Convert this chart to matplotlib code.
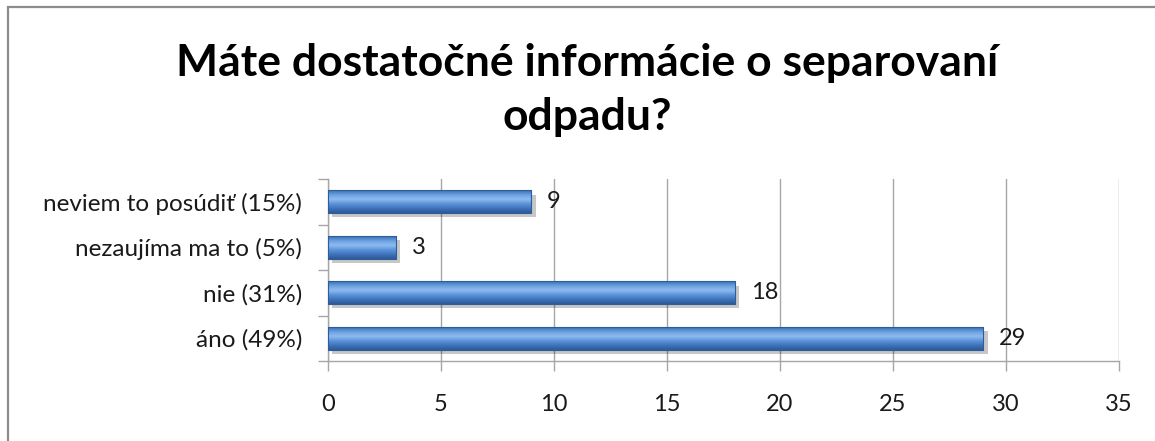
import numpy as np
import matplotlib
matplotlib.use("Agg")
import matplotlib.pyplot as plt
import matplotlib.patheffects as pe
from matplotlib.colors import LinearSegmentedColormap
from matplotlib.patches import Rectangle

plt.rcParams['font.family'] = ['Lato', 'DejaVu Sans']

# data (bottom to top)
categories = ["áno (49%)", "nie (31%)", "nezaujíma ma to (5%)", "neviem to posúdiť (15%)"]
counts = [29, 18, 3, 9]
x_ticks = [0, 5, 10, 15, 20, 25, 30, 35]
title = "Máte dostatočné informácie o separovaní\nodpadu?"

fig = plt.figure(figsize=(11.55, 4.41), dpi=100)

# outer chart border (only top and left visible, rest cut off)
fig.patches.append(Rectangle((8 / 1155, -0.05), 1.2, 1 - 7 / 441 + 0.05,
                             transform=fig.transFigure, fill=False,
                             edgecolor="#8c8c8c", linewidth=1.6))

ax = fig.add_axes([328 / 1155, 1 - 361 / 441, (1119 - 328) / 1155, (361 - 179) / 441])

y = np.arange(len(categories))
bars = ax.barh(y, counts, height=0.5, color="#4a80c8", edgecolor="#2f5d99",
               linewidth=0.6, zorder=3)

# blue gradient fill clipped to each bar, plus soft shadow
grad = LinearSegmentedColormap.from_list(
    "bevel", ["#2c5a96", "#3f74bb", "#5b93da", "#8fbcef", "#6aa0e0", "#3a6fb3"])
g = np.linspace(0, 1, 64).reshape(-1, 1)
for b in bars:
    x0, y0 = b.get_x(), b.get_y()
    w, h = b.get_width(), b.get_height()
    b.set_path_effects([pe.SimplePatchShadow(offset=(3, -3), shadow_rgbFace="#000000",
                                             alpha=0.22), pe.Normal()])
    im = ax.imshow(g, cmap=grad, aspect="auto", extent=(x0, x0 + w, y0, y0 + h),
                   origin="lower", zorder=4, interpolation="bicubic")
    im.set_clip_path(b)
    ax.add_patch(Rectangle((x0, y0), w, h, fill=False, edgecolor="#2f5d99",
                           linewidth=0.8, zorder=5))

for yi, v in zip(y, counts):
    ax.text(v + 0.7, yi, str(v), va="center", ha="left", fontsize=17, color="#1a1a1a", zorder=6)

ax.set_xlim(0, 35)
ax.set_ylim(-0.5, len(categories) - 0.5)
ax.set_xticks(x_ticks)
ax.set_xticklabels([str(t) for t in x_ticks])
ax.set_yticks(y)
ax.set_yticklabels(categories)
ax.set_yticks(np.arange(-0.5, len(categories)), minor=True)

ax.grid(axis="x", color="#a6a6a6", linewidth=1.0, zorder=0)
for s in ["top", "right"]:
    ax.spines[s].set_visible(False)
for s in ["left", "bottom"]:
    ax.spines[s].set_color("#a6a6a6")
    ax.spines[s].set_linewidth(1.0)

ax.tick_params(axis="y", which="major", length=0, pad=18.5, labelsize=17.5, labelcolor="#1a1a1a")
ax.tick_params(axis="y", which="minor", length=7, color="#a6a6a6", width=1.0)
ax.tick_params(axis="x", length=7, color="#a6a6a6", width=1.0, pad=17,
               labelsize=17, labelcolor="#1a1a1a")

fig.text(587 / 1155, 1 - 90 / 441, title, ha="center", va="center",
         fontsize=32, fontweight="bold", linespacing=1.45, color="#000000")

fig.savefig("out.png", dpi=100, facecolor="white")
